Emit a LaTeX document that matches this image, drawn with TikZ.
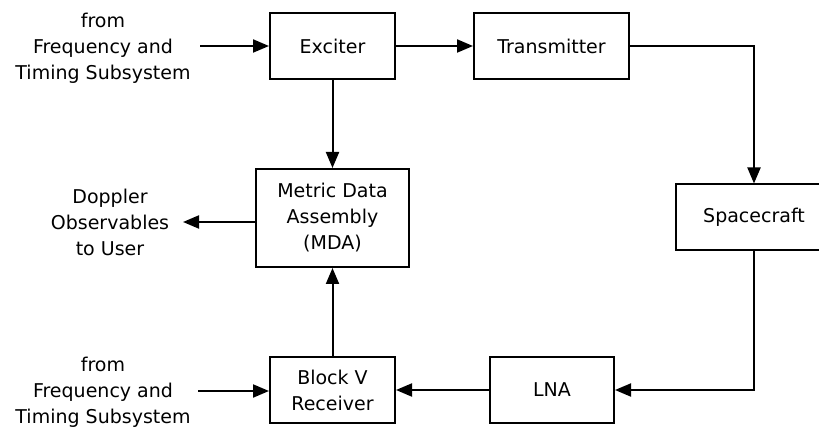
\documentclass[tikz,border=0pt]{standalone}
\usepackage{fontspec}
\setmainfont{DejaVu Sans}
\usetikzlibrary{arrows.meta}
\begin{document}
\begin{tikzpicture}[x=1pt,y=-1pt,
  box/.style={draw=black,line width=2pt,minimum width=#1,minimum height=66pt,inner sep=0pt,align=center,fill=white},
  lbl/.style={align=center,inner sep=0pt},
  conn/.style={line width=2pt,-{Triangle[length=16pt,width=13pt]}},
  font=\fontsize{19pt}{26pt}\selectfont]
\useasboundingbox (0,0) rectangle (819,430);
\clip (0,0) rectangle (819,430);
\fill[white] (0,0) rectangle (819,430);
% boxes
\node[box=125pt] (exc) at (332.5,46) {Exciter};
\node[box=155pt] (tx) at (551.5,46) {Transmitter};
\node[box=153pt,minimum height=98pt] (mda) at (332.5,218) {Metric Data\\Assembly\\(MDA)};
\node[box=156pt] (sc) at (754,217.5) {Spacecraft};
\node[box=125pt] (blk) at (332.5,390) {Block V\\Receiver};
\node[box=124pt] (lna) at (552,390) {LNA};
% labels
\node[lbl] (fts1) at (103,48) {from\\Frequency and\\Timing Subsystem};
\node[lbl] (fts2) at (103,392) {from\\Frequency and\\Timing Subsystem};
\node[lbl] (dop) at (110,222) {Doppler\\Observables\\to User};
\coordinate (in1) at (200,46);
\coordinate (in2) at (198,391);
\coordinate (out) at (183,222);
% connectors
\draw[conn] (in1) -- (exc.west);
\draw[conn] (exc.east) -- (tx.west);
\draw[conn] (tx.east) -| (sc.north);
\draw[conn] (exc.south) -- (mda.north);
\draw[conn] (mda.west |- out) -- (out);
\draw[conn] (blk.north) -- (mda.south);
\draw[conn] (sc.south) |- (lna.east);
\draw[conn] (lna.west) -- (blk.east);
\draw[conn] (in2) -- (in2 -| blk.west);
\end{tikzpicture}
\end{document}
